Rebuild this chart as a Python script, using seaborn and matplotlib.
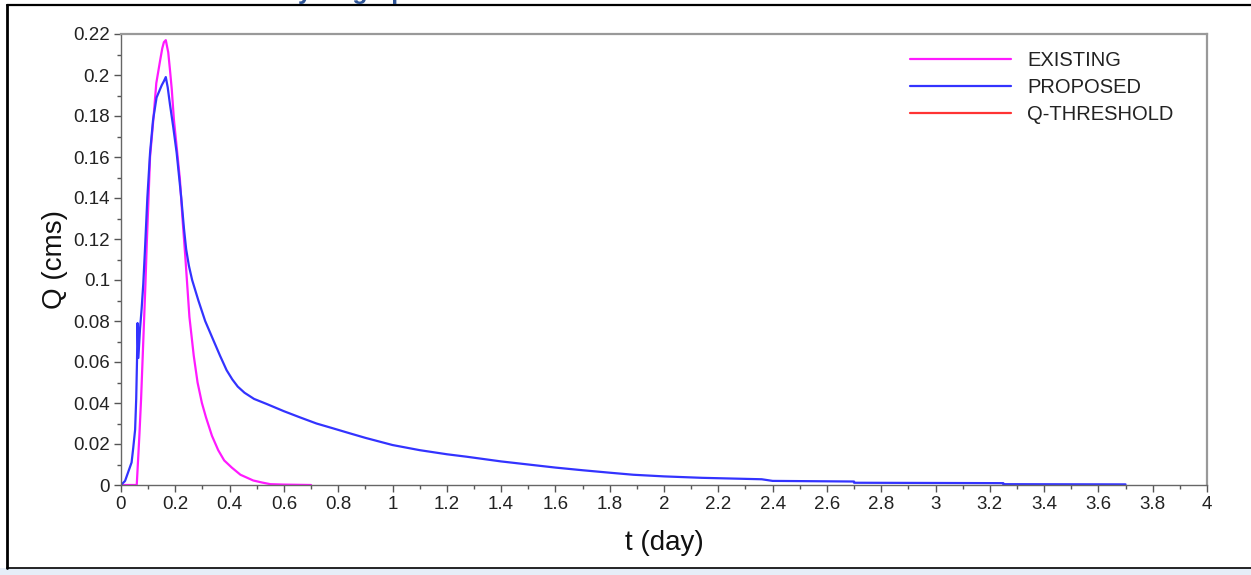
import numpy as np
import pandas as pd
import matplotlib
matplotlib.use("Agg")
import matplotlib.pyplot as plt
import seaborn as sns
from matplotlib.lines import Line2D
from matplotlib.patches import Rectangle
from matplotlib.ticker import MultipleLocator, FuncFormatter

t_existing = [0.0, 0.058, 0.062, 0.068, 0.074, 0.082, 0.090, 0.095, 0.100, 0.107,
              0.119, 0.130, 0.144, 0.152, 0.158, 0.165, 0.174, 0.180, 0.187, 0.195,
              0.205, 0.217, 0.227, 0.236, 0.252, 0.268, 0.282, 0.298, 0.313, 0.335,
              0.358, 0.380, 0.408, 0.440, 0.487, 0.520, 0.550, 0.600, 0.700]
q_existing = [0.0, 0.0, 0.010, 0.025, 0.042, 0.070, 0.098, 0.118, 0.135, 0.160,
              0.178, 0.196, 0.207, 0.213, 0.216, 0.217, 0.211, 0.203, 0.193, 0.178,
              0.165, 0.149, 0.129, 0.113, 0.082, 0.063, 0.050, 0.040, 0.033, 0.024,
              0.017, 0.012, 0.0085, 0.005, 0.0022, 0.0012, 0.0004, 0.0002, 0.0]

t_proposed = [0.0, 0.015, 0.027, 0.039, 0.045, 0.052, 0.056, 0.059, 0.061, 0.064,
              0.070, 0.076, 0.082, 0.088, 0.097, 0.107, 0.118, 0.131, 0.150, 0.158,
              0.165, 0.172, 0.180, 0.192, 0.205, 0.222, 0.232, 0.240, 0.250, 0.262,
              0.285, 0.310, 0.340, 0.365, 0.389, 0.410, 0.430, 0.455, 0.490, 0.537,
              0.600, 0.659, 0.720, 0.782, 0.843, 0.900, 1.000, 1.100, 1.200, 1.273,
              1.400, 1.500, 1.600, 1.700, 1.800, 1.887, 2.000, 2.140, 2.360, 2.400,
              2.700, 2.700, 3.250, 3.250, 3.700]
q_proposed = [0.0, 0.002, 0.0065, 0.011, 0.018, 0.027, 0.042, 0.061, 0.079, 0.062,
              0.076, 0.086, 0.098, 0.114, 0.140, 0.162, 0.178, 0.189, 0.195, 0.197,
              0.199, 0.194, 0.186, 0.175, 0.162, 0.140, 0.125, 0.115, 0.107, 0.100,
              0.090, 0.080, 0.0707, 0.063, 0.056, 0.0515, 0.048, 0.045, 0.042, 0.0395,
              0.036, 0.033, 0.030, 0.0276, 0.0252, 0.023, 0.0195, 0.017, 0.015, 0.0138,
              0.0115, 0.010, 0.0085, 0.0072, 0.006, 0.0050, 0.0042, 0.0035, 0.0028, 0.0020,
              0.0017, 0.0011, 0.0009, 0.0004, 0.0003]

series_names = ["EXISTING", "PROPOSED", "Q-THRESHOLD"]
series_colors = ["#ff1aff", "#3333ff", "#ff3333"]


def fmt(v, _):
    s = f"{v:.2f}".rstrip("0").rstrip(".")
    return s if s else "0"


# ─── build long table ──────────────────────────────────────────────────────
df = pd.concat([
    pd.DataFrame({"t": t_existing, "Q": q_existing, "series": "EXISTING"}),
    pd.DataFrame({"t": t_proposed, "Q": q_proposed, "series": "PROPOSED"}),
], ignore_index=True)

sns.set_style("white")
plt.rcParams["font.family"] = ["Liberation Sans", "DejaVu Sans"]

fig = plt.figure(figsize=(12.51, 5.75), dpi=100)
ax = fig.add_axes([121 / 1251, 90 / 575, 1086 / 1251, 451 / 575])

sns.lineplot(data=df, x="t", y="Q", hue="series", hue_order=series_names[:2],
             palette=series_colors[:2], estimator=None, sort=False,
             linewidth=1.6, legend=False, ax=ax)

ax.set_xlim(0, 4)
ax.set_ylim(0, 0.22)
ax.xaxis.set_major_locator(MultipleLocator(0.2))
ax.xaxis.set_minor_locator(MultipleLocator(0.1))
ax.yaxis.set_major_locator(MultipleLocator(0.02))
ax.yaxis.set_minor_locator(MultipleLocator(0.01))
ax.xaxis.set_major_formatter(FuncFormatter(fmt))
ax.yaxis.set_major_formatter(FuncFormatter(fmt))
ax.tick_params(which="major", direction="out", length=5, width=1, color="#555555",
               labelsize=13.5, labelcolor="#222222", bottom=True, left=True, pad=3)
ax.tick_params(which="minor", direction="out", length=3, width=1, color="#555555",
               bottom=True, left=True)
for side in ["top", "right"]:
    ax.spines[side].set_color("#999999")
    ax.spines[side].set_linewidth(1.6)
for side in ["left", "bottom"]:
    ax.spines[side].set_color("#666666")
    ax.spines[side].set_linewidth(1.0)

ax.set_xlabel("t (day)", fontsize=20, color="#111111", labelpad=12)
ax.set_ylabel("Q (cms)", fontsize=20, color="#111111", labelpad=4)

handles = [Line2D([], [], color=c, lw=1.6) for c in series_colors]
ax.legend(handles, series_names, loc="upper left", bbox_to_anchor=(0.71, 1.003),
          frameon=False, fontsize=14.5, handlelength=5.0, handletextpad=0.8,
          labelspacing=0.4, labelcolor="#222222")

# ─── page decorations from the source document ────────────────────────────
fig.add_artist(Rectangle((0, 0), 1, 7 / 575, transform=fig.transFigure,
                         facecolor="#e6eef8", edgecolor="none"))
fig.add_artist(Line2D([7 / 1251, 1], [1 - 5 / 575] * 2, color="black", lw=1.6))
fig.add_artist(Line2D([7 / 1251] * 2, [7 / 575, 1 - 5 / 575], color="black", lw=2.0))
fig.add_artist(Line2D([7 / 1251, 1], [7.5 / 575] * 2, color="black", lw=1.2))
fig.text(280 / 1251, 1 + 1 / 575, "Hydrograph", fontsize=18, fontweight="bold",
         color="#2f5597", va="baseline", ha="left")

fig.savefig("out.png", dpi=100)
